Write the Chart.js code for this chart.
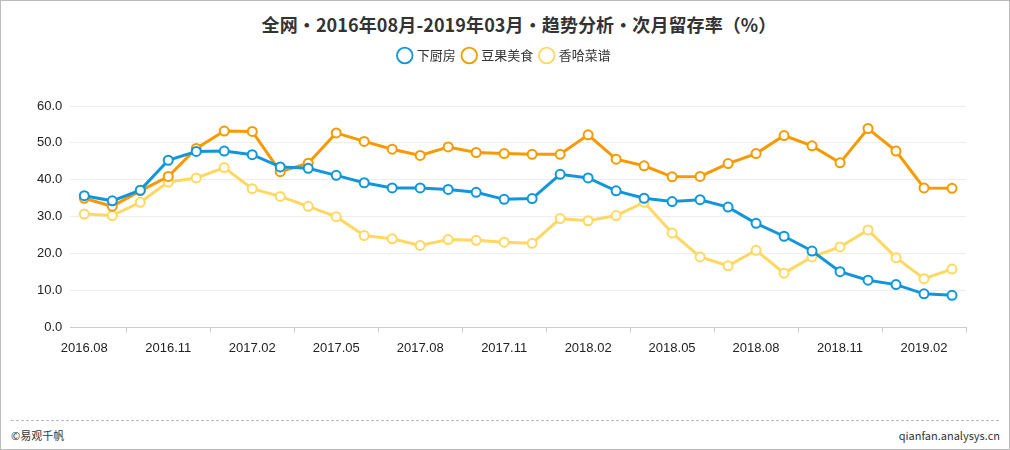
<!DOCTYPE html>
<html>
<head>
<meta charset="utf-8">
<script src="https://cdn.jsdelivr.net/npm/chart.js@4.4.0/dist/chart.umd.min.js"></script>
<style>
  body { margin: 0; background: #fff; font-family: "Noto Sans CJK SC", "Noto Sans", sans-serif; }
  #box { position: relative; width: 1010px; height: 450px; box-sizing: border-box; border: 1px solid #bbb; background: #fff; }
  #titre { position: absolute; left: 0; width: 1036px; top: 11px; text-align: center; font-size: 18px; font-weight: bold; color: #333; line-height: 24px; white-space: nowrap; letter-spacing: 0.1px; }
  #wrap { position: absolute; left: 0; top: 0; width: 1008px; height: 367px; }
  #foot { position: absolute; left: 10px; right: 10px; top: 419px; border-top: 1px dashed #bbb; }
  .ft { position: absolute; top: 426px; font-size: 11px; color: #333; }
</style>
</head>
<body>
<div id="box">
  <div id="titre">全网・2016年08月-2019年03月・趋势分析・次月留存率（%）</div>
  <div id="wrap"><canvas id="graphique"></canvas></div>
  <div id="foot"></div>
  <div class="ft" style="left:10px">©易观千帆</div>
  <div class="ft" style="right:9px">qianfan.analysys.cn</div>
</div>
<script>
const mois = [
    '2016.08', '2016.09', '2016.10', '2016.11', '2016.12', '2017.01', '2017.02', '2017.03',
    '2017.04', '2017.05', '2017.06', '2017.07', '2017.08', '2017.09', '2017.10', '2017.11',
    '2017.12', '2018.01', '2018.02', '2018.03', '2018.04', '2018.05', '2018.06', '2018.07',
    '2018.08', '2018.09', '2018.10', '2018.11', '2018.12', '2019.01', '2019.02', '2019.03'
];

const xiachufang = [35.7, 34.3, 37.2, 45.3, 47.7, 47.8, 46.8, 43.5, 43.1, 41.2, 39.2, 37.8,
    37.8, 37.4, 36.6, 34.7, 34.9, 41.5, 40.5, 37.0, 35.0, 34.1, 34.6, 32.6,
    28.2, 24.7, 20.7, 15.1, 12.8, 11.6, 9.1, 8.7];

const douguo = [35.0, 32.8, 37.0, 40.9, 48.5, 53.2, 53.1, 42.2, 44.5, 52.7, 50.4, 48.3,
    46.6, 48.9, 47.4, 47.1, 46.9, 46.9, 52.2, 45.6, 43.8, 40.8, 40.9, 44.4,
    47.1, 52.0, 49.2, 44.6, 53.9, 47.8, 37.8, 37.7];

const xianghha = [30.7, 30.3, 33.9, 39.4, 40.5, 43.3, 37.6, 35.5, 32.8, 30.0, 24.9, 24.0,
    22.2, 23.8, 23.6, 23.1, 22.8, 29.5, 28.9, 30.3, 33.9, 25.6, 19.1, 16.7,
    20.9, 14.7, 19.1, 21.8, 26.4, 18.9, 13.2, 15.8];

const yTicks = [0, 10, 20, 30, 40, 50, 60];

function serie(label, data, couleur) {
    return {
        label: label,
        data: data,
        borderColor: couleur,
        backgroundColor: '#fff',
        borderWidth: 3,
        pointRadius: 4.5,
        pointHoverRadius: 4.5,
        pointBorderWidth: 2,
        pointBackgroundColor: '#fff',
        pointBorderColor: couleur,
        tension: 0,
        yAxisID: 'y'
    };
}

// pousse le graphique vers le bas sous la légende
const margeLegende = {
    id: 'margeLegende',
    beforeInit(chart) {
        const fitOrig = chart.legend.fit;
        chart.legend.fit = function () {
            fitOrig.bind(chart.legend)();
            this.height += 34;
        };
    }
};

const leGraphique = new Chart(document.getElementById('graphique'), {
    type: 'line',
    data: {
        labels: mois,
        datasets: [
            serie('下厨房', xiachufang, '#1296db'),
            serie('豆果美食', douguo, '#f79a00'),
            serie('香哈菜谱', xianghha, '#ffd862')
        ]
    },
    plugins: [margeLegende],
    options: {
        responsive: true,
        maintainAspectRatio: false,
        animation: false,
        layout: { padding: { left: 28, right: 28, top: 40, bottom: 4 } },
        plugins: {
            title: { display: false },
            legend: {
                display: true,
                labels: {
                    usePointStyle: true,
                    pointStyle: 'circle',
                    boxWidth: 11,
                    boxHeight: 11,
                    padding: 8,
                    color: '#333',
                    font: { size: 13, family: '"Noto Sans CJK SC", sans-serif' },
                    generateLabels(chart) {
                        return Chart.defaults.plugins.legend.labels.generateLabels(chart)
                            .map(l => Object.assign(l, { lineWidth: 1.8, fillStyle: '#fff' }));
                    }
                }
            },
            tooltip: { enabled: false }
        },
        scales: {
            x: {
                offset: true,
                grid: { offset: true, drawOnChartArea: false, tickLength: 5, color: '#ccc' },
                border: { color: '#ccc' },
                ticks: {
                    autoSkip: false,
                    maxRotation: 0,
                    color: '#222',
                    font: { size: 13, family: 'Helvetica, "Liberation Sans", Arial, sans-serif' },
                    padding: 8,
                    callback: function (v, i) { return i % 3 === 0 ? mois[i] : null; }
                }
            },
            y: {
                min: 0,
                max: 60,
                afterBuildTicks: function (axis) { axis.ticks = yTicks.map(v => ({ value: v })); },
                grid: { color: '#eeeeee', drawTicks: false },
                border: { display: false },
                ticks: {
                    color: '#222',
                    padding: 8,
                    font: { size: 13, family: 'Helvetica, "Liberation Sans", Arial, sans-serif' },
                    callback: function (v) { return v.toFixed(1); }
                }
            },
            // axe vide à droite, juste pour recentrer la légende
            yVide: {
                position: 'right',
                grid: { display: false },
                border: { display: false },
                ticks: { display: false },
                afterFit: function (axis) { axis.width = 15; }
            }
        }
    }
});
</script>
</body>
</html>
